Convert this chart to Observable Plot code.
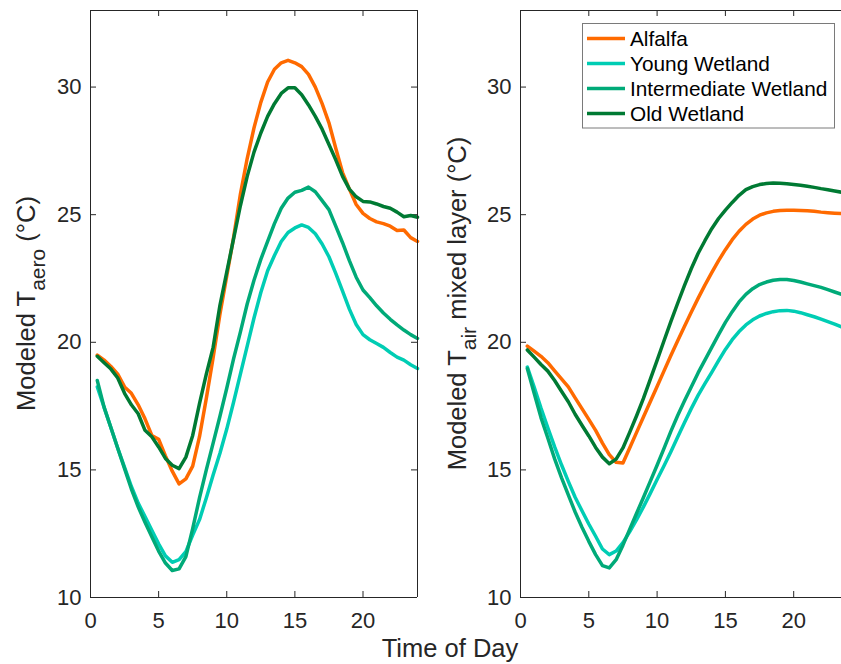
<!DOCTYPE html>
<html><head><meta charset="utf-8">
<script src="https://cdn.jsdelivr.net/npm/d3@7"></script>
<script src="https://cdn.jsdelivr.net/npm/@observablehq/plot@0.6"></script>
<style>
body{margin:0;background:#fff;overflow:hidden}
#wrap{position:relative;width:841px;height:664px;overflow:hidden;font-family:"Liberation Sans",Arial,Helvetica,sans-serif;color:#262626}
#left,#right{position:absolute;top:0}
#left{left:0}
#right{left:430px}
#xlabel{position:absolute;left:450px;top:636px;transform:translateX(-50%);font-size:25.5px;line-height:1;white-space:nowrap;color:#262626}
</style>
</head><body>
<div id="wrap"><div id="left"></div><div id="right"></div><div id="xlabel">Time of Day</div></div>
<script>
const seriesNames = ["Alfalfa", "Young Wetland", "Intermediate Wetland", "Old Wetland"];
const seriesColors = ["#ff6a00", "#00cdb4", "#00aa78", "#007a33"];
const xTicks = [0, 5, 10, 15, 20];
const yTicks = [10, 15, 20, 25, 30];
const hours = [0.5,1,1.5,2,2.5,3,3.5,4,4.5,5,5.5,6,6.5,7,7.5,8,8.5,9,9.5,10,10.5,11,11.5,12,12.5,13,13.5,14,14.5,15,15.5,16,16.5,17,17.5,18,18.5,19,19.5,20,20.5,21,21.5,22,22.5,23,23.5,24];

// Left panel: Modeled T_aero
const alfalfaAero = [19.5,19.3,19.05,18.75,18.25,18.0,17.55,17.0,16.35,16.2,15.55,14.95,14.45,14.65,15.15,16.3,17.8,19.4,21.1,22.6,24.1,25.8,27.2,28.4,29.4,30.2,30.7,30.95,31.05,30.95,30.8,30.5,30.0,29.35,28.6,27.6,26.65,26.0,25.4,25.05,24.85,24.72,24.65,24.55,24.38,24.4,24.1,23.95];
const youngAero = [18.25,17.45,16.65,15.85,15.1,14.35,13.7,13.17,12.63,12.1,11.63,11.38,11.48,11.8,12.45,13.05,13.9,14.8,15.65,16.6,17.65,18.75,19.85,20.95,21.95,22.8,23.4,23.95,24.3,24.48,24.6,24.5,24.25,23.85,23.35,22.7,22.0,21.3,20.7,20.3,20.1,19.95,19.8,19.6,19.42,19.3,19.12,18.97];
const interAero = [18.5,17.45,16.65,15.85,15.05,14.25,13.55,12.95,12.38,11.82,11.35,11.06,11.12,11.6,12.7,13.9,15.0,16.05,17.1,18.2,19.35,20.4,21.5,22.43,23.25,23.95,24.65,25.25,25.65,25.88,25.95,26.08,25.9,25.55,25.2,24.55,23.9,23.2,22.55,22.05,21.75,21.43,21.15,20.9,20.68,20.48,20.3,20.15];
const oldAero = [19.45,19.2,18.95,18.6,18.0,17.55,17.2,16.55,16.3,15.9,15.45,15.18,15.05,15.5,16.35,17.6,18.75,19.8,21.45,22.75,24.05,25.35,26.5,27.45,28.2,28.85,29.35,29.75,29.97,29.97,29.7,29.3,28.85,28.35,27.75,27.15,26.5,26.0,25.7,25.52,25.5,25.42,25.32,25.25,25.1,24.92,24.97,24.9];

// Right panel: Modeled T_air mixed layer
const alfalfaMix = [19.85,19.65,19.45,19.2,18.88,18.57,18.25,17.82,17.4,16.98,16.55,16.05,15.6,15.3,15.27,15.87,16.47,17.07,17.67,18.27,18.87,19.47,20.05,20.62,21.18,21.72,22.24,22.73,23.2,23.63,24.02,24.35,24.62,24.83,24.98,25.07,25.13,25.16,25.17,25.17,25.16,25.15,25.13,25.1,25.08,25.06,25.04];
const youngMix = [19.03,18.25,17.42,16.65,15.9,15.2,14.55,13.93,13.4,12.88,12.4,11.9,11.68,11.82,12.15,12.58,13.05,13.55,14.08,14.62,15.15,15.7,16.28,16.85,17.4,17.92,18.38,18.82,19.28,19.72,20.1,20.42,20.68,20.88,21.03,21.13,21.2,21.24,21.25,21.22,21.16,21.08,21.0,20.91,20.81,20.71,20.6];
const interMix = [18.97,18.0,17.05,16.25,15.43,14.7,14.02,13.35,12.75,12.2,11.68,11.25,11.16,11.48,12.05,12.68,13.3,13.92,14.55,15.18,15.83,16.5,17.12,17.7,18.25,18.8,19.3,19.8,20.3,20.78,21.2,21.58,21.88,22.1,22.26,22.36,22.43,22.46,22.46,22.42,22.36,22.29,22.22,22.15,22.06,21.97,21.88];
const oldMix = [19.7,19.42,19.13,18.87,18.5,18.08,17.67,17.18,16.75,16.33,15.88,15.5,15.24,15.42,15.86,16.48,17.12,17.8,18.55,19.29,20.05,20.8,21.52,22.22,22.88,23.48,23.98,24.45,24.85,25.18,25.48,25.76,25.98,26.1,26.18,26.22,26.24,26.23,26.21,26.18,26.15,26.11,26.07,26.02,25.98,25.93,25.88];

function rows(arrs) {
  const out = [];
  arrs.forEach((arr, s) => arr.forEach((v, i) => out.push({hour: hours[i], temp: v, series: seriesNames[s]})));
  return out;
}
const aeroRows = rows([alfalfaAero, youngAero, interAero, oldAero]);
const mixRows = rows([alfalfaMix, youngMix, interMix, oldMix]);

const ink = "#262626";
const font = '"Liberation Sans", Arial, Helvetica, sans-serif';
const H = 640, mT = 10, mB = 43, mL = 90, tick = 6;

function panel(data, xMax, w, mR, rightFrame) {
  const ph = H - mT - mB, pw = w - mL - mR;
  const marks = [
    Plot.axisX(xTicks, {anchor: "bottom", tickSize: 0, tickPadding: 15, label: null, fontSize: 22, fill: ink}),
    Plot.axisY(yTicks, {anchor: "left", tickSize: 0, tickPadding: 9, label: null, fontSize: 22, fill: ink}),
    Plot.tickX(xTicks, {x: d => d, insetTop: ph - tick, stroke: ink, strokeWidth: 1}),
    Plot.tickX(xTicks, {x: d => d, insetBottom: ph - tick, stroke: ink, strokeWidth: 1}),
    Plot.tickY(yTicks, {y: d => d, insetRight: pw - tick, stroke: ink, strokeWidth: 1}),
  ];
  if (rightFrame) marks.push(Plot.tickY(yTicks, {y: d => d, insetLeft: pw - tick, stroke: ink, strokeWidth: 1}));
  marks.push(Plot.line(data, {x: "hour", y: "temp", z: "series", stroke: "series", strokeWidth: 3.5, strokeLinejoin: "round"}));
  marks.push(Plot.ruleY([10, 33], {stroke: ink, strokeWidth: 1}));
  marks.push(Plot.ruleX(rightFrame ? [0, xMax] : [0], {stroke: ink, strokeWidth: 1}));
  return Plot.plot({
    width: w, height: H,
    marginTop: mT, marginBottom: mB, marginLeft: mL, marginRight: mR,
    style: {fontFamily: font, fontSize: "22px", color: ink, background: "white", overflow: "visible"},
    x: {domain: [0, xMax], ticks: xTicks},
    y: {domain: [10, 33], ticks: yTicks},
    color: {domain: seriesNames, range: seriesColors},
    marks
  });
}

function yLabel(svg, x, main, sub, rest) {
  const t = d3.select(svg).append("text")
    .attr("transform", `translate(${x},303.5) rotate(-90)`)
    .attr("text-anchor", "middle")
    .attr("fill", ink)
    .style("font-family", font)
    .style("font-size", "25.5px");
  t.append("tspan").text(main);
  t.append("tspan").attr("dy", 10).style("font-size", "21px").text(sub);
  t.append("tspan").attr("dy", -10).text(rest);
}

const left = panel(aeroRows, 24, 430, 13, true);
yLabel(left, 35, "Modeled T", "aero", " (°C)");
document.getElementById("left").appendChild(left);

const right = panel(mixRows, 23.5, 411, 0, false);
yLabel(right, 36, "Modeled T", "air", " mixed layer (°C)");
// legend
const lg = d3.select(right).append("g").attr("text-anchor", "start");
lg.append("rect").attr("x", 152.5).attr("y", 23.5).attr("width", 252).attr("height", 104.5)
  .attr("fill", "white").attr("stroke", "#7a7a7a").attr("stroke-width", 1);
seriesNames.forEach((name, i) => {
  const y = 38.5 + i * 25;
  lg.append("line").attr("x1", 157).attr("x2", 195).attr("y1", y).attr("y2", y)
    .attr("stroke", seriesColors[i]).attr("stroke-width", 3.5);
  lg.append("text").attr("x", 200).attr("y", y).attr("dy", "0.35em").attr("text-anchor", "start")
    .attr("fill", "#000").style("font-family", font).style("font-size", "20.8px").text(name);
});
document.getElementById("right").appendChild(right);
</script>
</body></html>
